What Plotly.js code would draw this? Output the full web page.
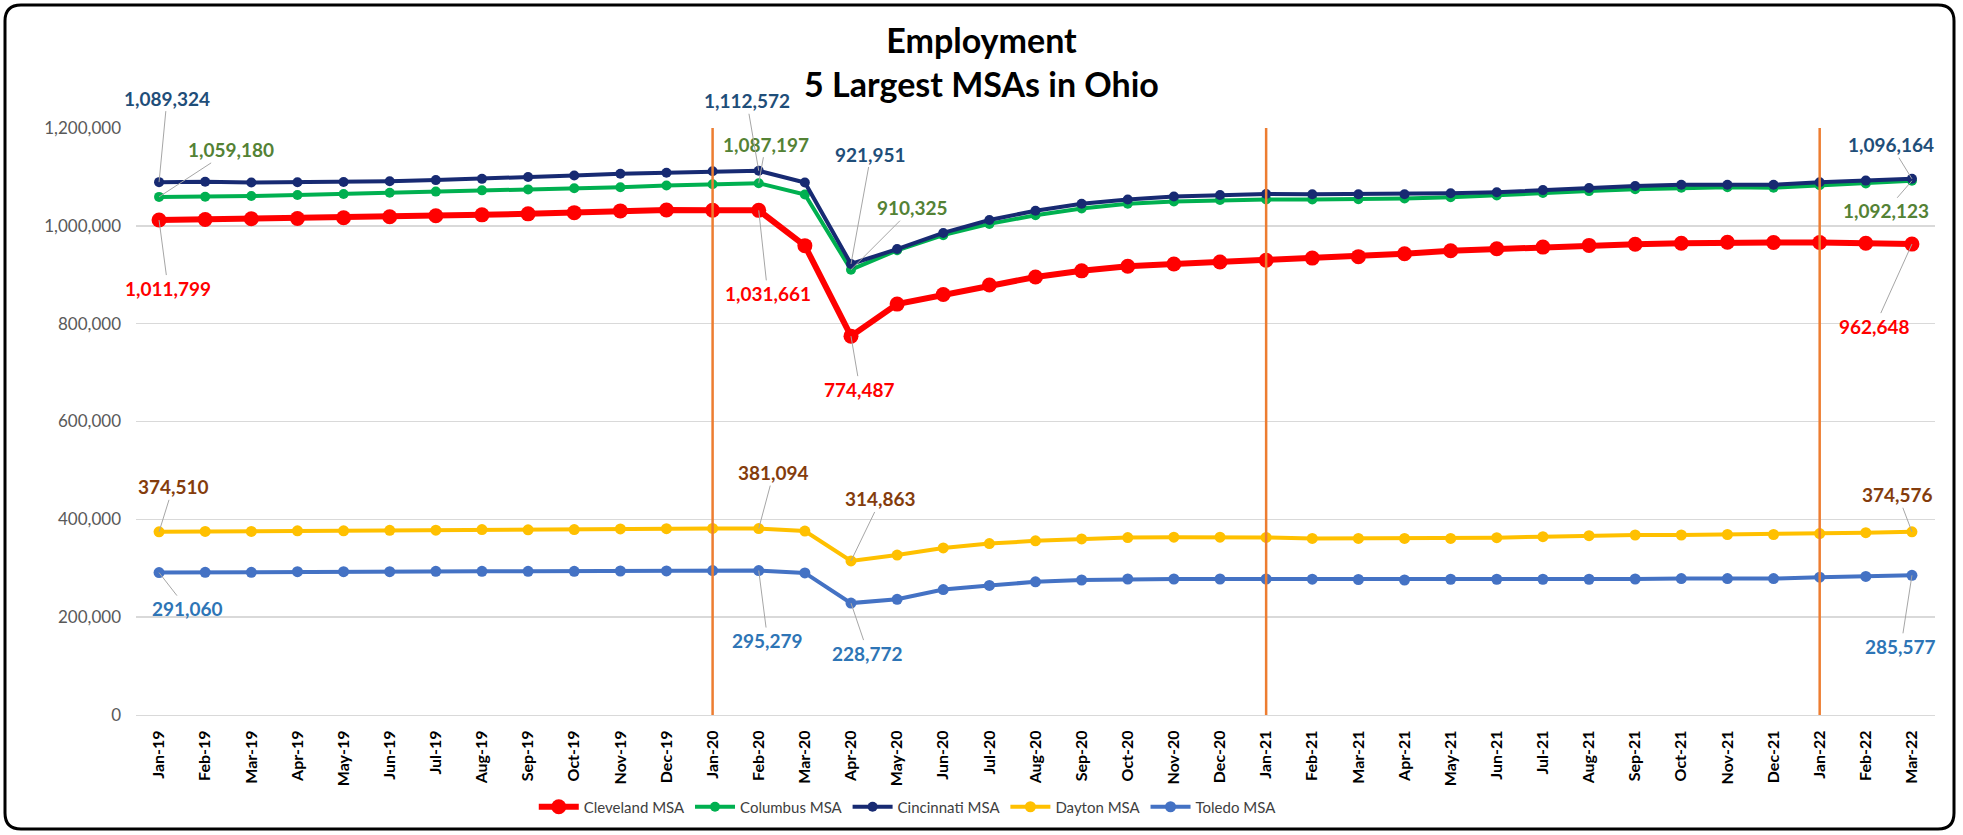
<!DOCTYPE html>
<html>
<head>
<meta charset="utf-8">
<script src="https://cdn.plot.ly/plotly-3.0.1.min.js"></script>
<style>
  html, body { margin: 0; padding: 0; background: #ffffff; }
  #chart { width: 1963px; height: 835px; }
</style>
</head>
<body>
<div id="chart"></div>
<script>
// ---------- DATA ----------
const months = [
  "Jan-19","Feb-19","Mar-19","Apr-19","May-19","Jun-19","Jul-19","Aug-19","Sep-19","Oct-19","Nov-19","Dec-19",
  "Jan-20","Feb-20","Mar-20","Apr-20","May-20","Jun-20","Jul-20","Aug-20","Sep-20","Oct-20","Nov-20","Dec-20",
  "Jan-21","Feb-21","Mar-21","Apr-21","May-21","Jun-21","Jul-21","Aug-21","Sep-21","Oct-21","Nov-21","Dec-21",
  "Jan-22","Feb-22","Mar-22"
];

const cleveland = [
  1011799, 1013000, 1014500, 1015000, 1016500, 1018500, 1020500, 1022500, 1024500, 1027000, 1030500, 1032500,
  1031800, 1031661, 959500, 774487, 840000, 859500, 879000, 895500, 908000, 917500, 922000, 926000,
  929500, 934000, 937000, 943000, 949000, 953000, 956500, 960000, 962500, 964500, 966500, 966000,
  966000, 964500, 962648
];

const columbus = [
  1059180, 1059500, 1061000, 1063000, 1065000, 1067500, 1070000, 1072500, 1074500, 1077000, 1079000, 1082500,
  1085000, 1087197, 1064000, 910325, 950000, 981000, 1004000, 1021500, 1035500, 1045000, 1050000, 1053000,
  1054000, 1054000, 1054500, 1056000, 1058500, 1062000, 1067000, 1071000, 1075000, 1078000, 1079000, 1078000,
  1083000, 1086500, 1092123
];

const cincinnati = [
  1089324, 1090000, 1088500, 1089000, 1089500, 1091000, 1093500, 1096000, 1100000, 1103000, 1106500, 1108500,
  1111500, 1112572, 1088500, 921951, 952500, 985500, 1012000, 1031000, 1045000, 1054000, 1060000, 1063000,
  1065000, 1064500, 1064500, 1064500, 1066500, 1068700, 1073000, 1077500, 1081500, 1084000, 1084000, 1084000,
  1089000, 1092500, 1096164
];

const dayton = [
  374510, 375200, 375200, 376500, 376500, 377500, 377800, 379000, 378600, 379000, 380300, 380800,
  381500, 381094, 376000, 314863, 327000, 341500, 350500, 356000, 360000, 362700, 363500, 363500,
  363000, 361000, 361000, 361000, 361000, 362500, 364500, 366500, 368000, 368000, 369000, 369000,
  371000, 372800, 374576
];

const toledo = [
  291060, 291700, 291700, 293000, 293000, 293000, 293800, 293800, 293800, 293800, 294400, 294600,
  295300, 295279, 290500, 228772, 236500, 256500, 264800, 272200, 276000, 278000, 278000, 278000,
  278000, 277600, 277000, 276000, 277500, 277500, 277500, 277500, 278000, 279000, 279000, 279000,
  281700, 283200, 285577
];

const seriesNames = ["Cleveland MSA", "Columbus MSA", "Cincinnati MSA", "Dayton MSA", "Toledo MSA"];
const labeledMonths = ["Jan-19", "Feb-20", "Apr-20", "Mar-22"];
const markerMonths = ["Jan-20", "Jan-21", "Jan-22"];

// ---------- STYLE ----------
const FONT = "Lato, 'Open Sans', sans-serif";
const W = 1963, H = 835;
const M = { l: 136, r: 28, t: 128, b: 120 };

const styles = [
  { data: cleveland,  line: "#FF0000", width: 6, msize: 15, label: "#FF0000",
    offs: [[9, 68], [9, 83], [9, 53], [-37, 82]] },
  { data: columbus,   line: "#00B050", width: 4, msize: 10, label: "#548235",
    offs: [[72, -47], [7, -39], [62, -62], [-26, 30]] },
  { data: cincinnati, line: "#172A72", width: 4, msize: 10, label: "#1F4E79",
    offs: [[8, -84], [-12, -70], [20, -110], [-21, -34]] },
  { data: dayton,     line: "#FFC000", width: 4, msize: 11, label: "#843C0C",
    offs: [[14, -45], [15, -56], [30, -62], [-14, -37]] },
  { data: toledo,     line: "#4472C4", width: 4, msize: 11, label: "#2E75B6",
    offs: [[28, 36], [9, 70], [17, 50], [-11, 71]] }
];

const traces = styles.map((s, i) => ({
  type: "scatter",
  mode: "lines+markers",
  name: seriesNames[i],
  x: months,
  y: s.data,
  line: { color: s.line, width: s.width },
  marker: { color: s.line, size: s.msize },
  hoverinfo: "x+y+name"
}));

const annotations = [];
styles.forEach((s) => {
  labeledMonths.forEach((m, k) => {
    const idx = months.indexOf(m);
    annotations.push({
      x: idx, y: s.data[idx], xref: "x", yref: "y",
      text: s.data[idx].toLocaleString("en-US"),
      showarrow: true, arrowhead: 0, arrowwidth: 1, arrowcolor: "#A6A6A6",
      standoff: 0, startstandoff: 0,
      ax: s.offs[k][0], ay: s.offs[k][1],
      font: { family: FONT, size: 19, color: s.label, weight: "bold" }
    });
  });
});

const shapes = markerMonths.map((m) => ({
  type: "line", xref: "x", yref: "paper",
  x0: months.indexOf(m), x1: months.indexOf(m), y0: 0, y1: 1,
  line: { color: "#ED7D31", width: 2.5 }, layer: "above"
}));

// rounded chart frame (pixel box converted to paper coords)
const pw = W - M.l - M.r, ph = H - M.t - M.b;
const PX = (px) => (px - M.l) / pw;
const PY = (py) => (H - M.b - py) / ph;
const bx0 = 5, bx1 = 1954, by0 = 5, by1 = 829, r = 16;
const framePath =
  `M ${PX(bx0 + r)},${PY(by0)} L ${PX(bx1 - r)},${PY(by0)} Q ${PX(bx1)},${PY(by0)} ${PX(bx1)},${PY(by0 + r)} ` +
  `L ${PX(bx1)},${PY(by1 - r)} Q ${PX(bx1)},${PY(by1)} ${PX(bx1 - r)},${PY(by1)} ` +
  `L ${PX(bx0 + r)},${PY(by1)} Q ${PX(bx0)},${PY(by1)} ${PX(bx0)},${PY(by1 - r)} ` +
  `L ${PX(bx0)},${PY(by0 + r)} Q ${PX(bx0)},${PY(by0)} ${PX(bx0 + r)},${PY(by0)} Z`;
shapes.push({
  type: "path", xref: "paper", yref: "paper", path: framePath,
  line: { color: "#000000", width: 3 }, fillcolor: "rgba(0,0,0,0)", layer: "below"
});

const layout = {
  width: W, height: H,
  margin: M,
  paper_bgcolor: "#ffffff",
  plot_bgcolor: "#ffffff",
  font: { family: FONT, color: "#404040" },
  title: {
    text: "Employment<br>5 Largest MSAs in Ohio",
    font: { family: FONT, size: 34, color: "#000000", weight: "bold" },
    x: 0.5, xanchor: "center", xref: "container",
    y: 1 - 53 / H, yanchor: "middle", yref: "container"
  },
  xaxis: {
    type: "category",
    range: [-0.5, months.length - 0.5],
    tickangle: -90,
    tickfont: { family: FONT, size: 16, color: "#000000", weight: "bold" },
    showgrid: false,
    showline: true, linecolor: "#D9D9D9", linewidth: 1,
    ticks: "",
    ticklabelstandoff: 8,
    fixedrange: true
  },
  yaxis: {
    range: [0, 1200000],
    dtick: 200000,
    tickformat: ",",
    tickfont: { family: FONT, size: 17, color: "#595959" },
    gridcolor: "#D9D9D9", gridwidth: 1.5,
    zeroline: false,
    showline: false,
    ticks: "",
    ticklabelstandoff: 14,
    fixedrange: true
  },
  legend: {
    orientation: "h",
    x: 0.429, xanchor: "center",
    y: (H - M.b - 807) / ph, yanchor: "middle",
    font: { family: FONT, size: 15, color: "#404040" },
    itemwidth: 40,
    bgcolor: "rgba(0,0,0,0)"
  },
  annotations: annotations,
  shapes: shapes,
  showlegend: true
};

Plotly.newPlot("chart", traces, layout, { displayModeBar: false, staticPlot: true });
</script>
</body>
</html>
